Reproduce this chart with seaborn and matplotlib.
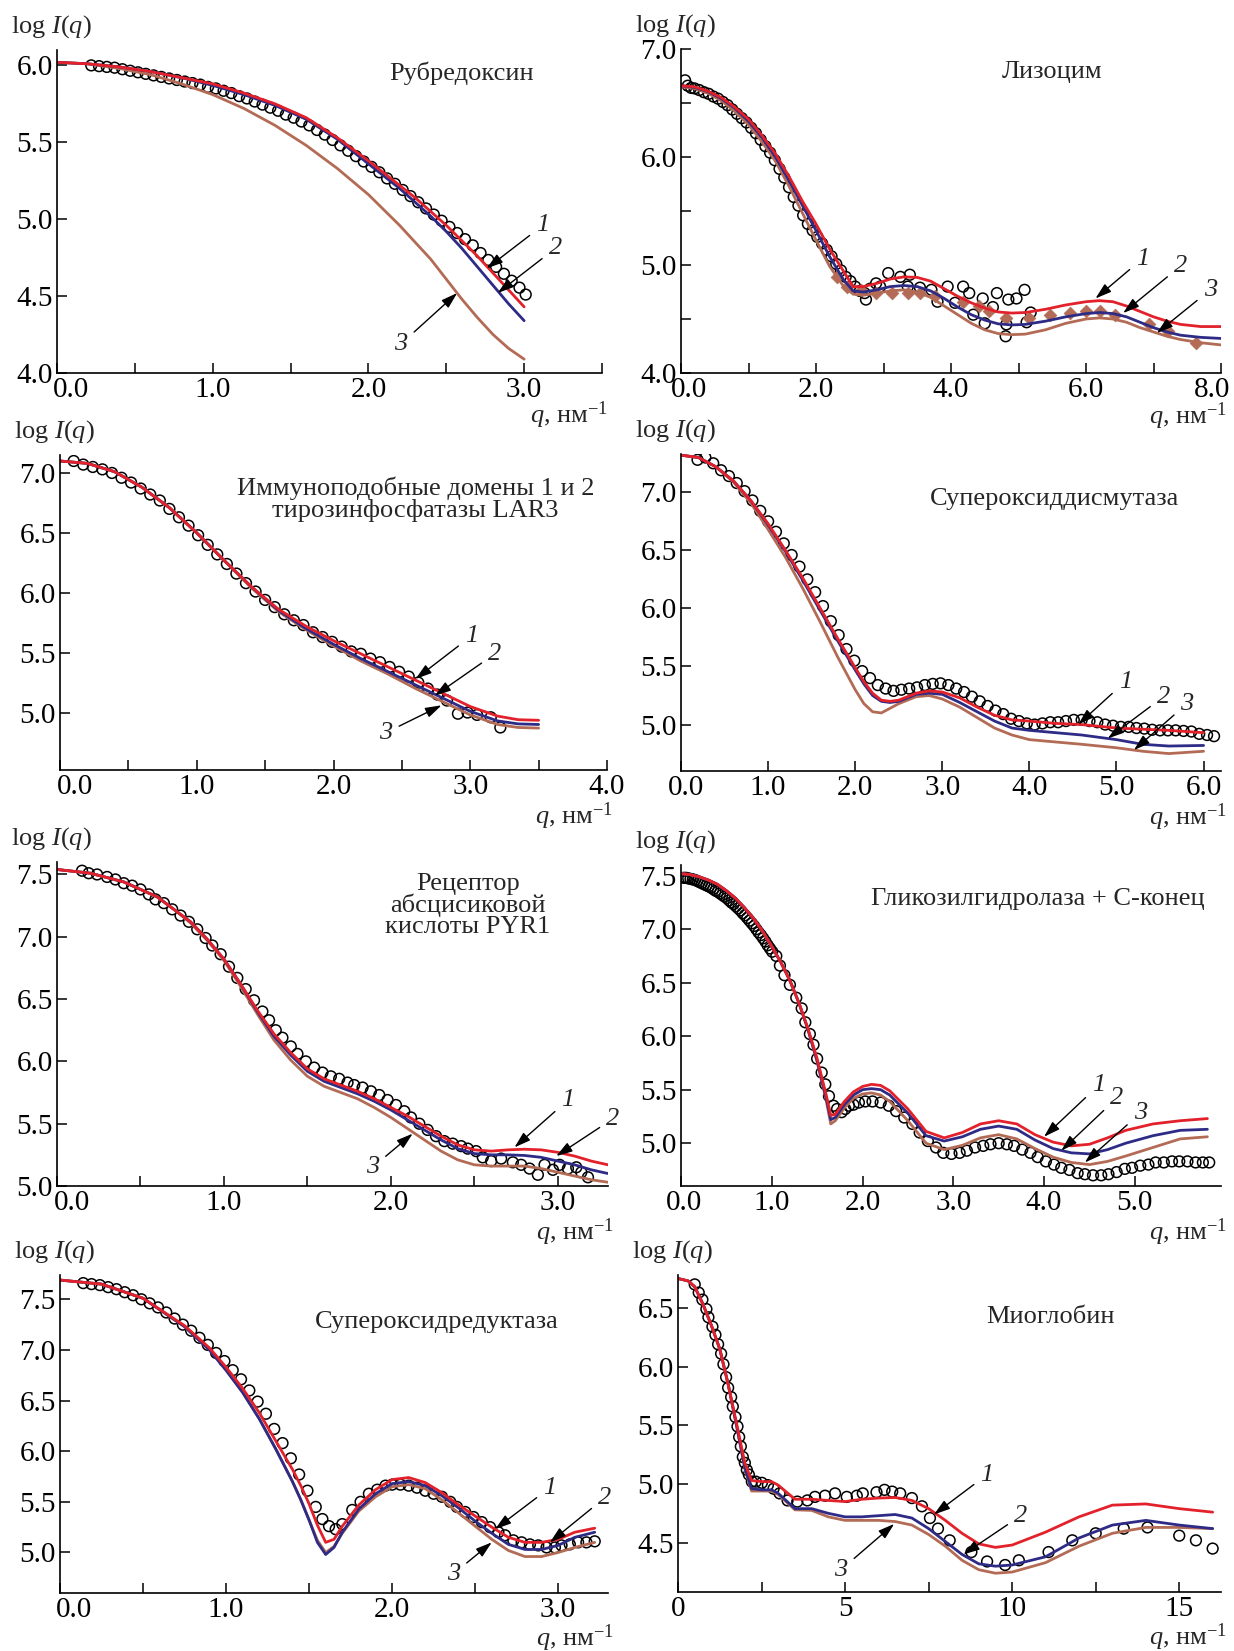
import matplotlib
matplotlib.use("Agg")
import matplotlib.pyplot as plt
import seaborn as sns
from matplotlib.ticker import FixedLocator, FormatStrFormatter
from matplotlib.transforms import ScaledTranslation

sns.set_style("ticks")
plt.rcParams['font.family'] = ['Liberation Serif', 'DejaVu Serif']
plt.rcParams['mathtext.fontset'] = 'custom'
plt.rcParams['mathtext.rm'] = 'Liberation Serif'
plt.rcParams['mathtext.it'] = 'Liberation Serif:italic'
plt.rcParams['mathtext.bf'] = 'Liberation Serif:bold'
plt.rcParams['axes.edgecolor'] = 'black'
plt.rcParams['xtick.color'] = 'black'
plt.rcParams['ytick.color'] = 'black'

RED = "#e3212b"
BLUE = "#2e2b87"
BROWN = "#b36b55"

# ---------------- Panel 1: Рубредоксин ----------------
q1_exp = [0.22, 0.27, 0.32, 0.37, 0.42, 0.47, 0.52, 0.57, 0.62, 0.67, 0.72, 0.77, 0.82, 0.87, 0.92, 0.97,
          1.02, 1.07, 1.12, 1.17, 1.22, 1.27, 1.32, 1.37, 1.42, 1.47, 1.52, 1.57, 1.62, 1.67, 1.72, 1.77,
          1.82, 1.87, 1.92, 1.97, 2.02, 2.07, 2.12, 2.17, 2.22, 2.27, 2.32, 2.37, 2.42, 2.47, 2.52, 2.57,
          2.62, 2.67, 2.72, 2.77, 2.82, 2.87, 2.92, 2.97, 3.01]
i1_exp = [6.00, 5.995, 5.99, 5.985, 5.975, 5.965, 5.955, 5.945, 5.935, 5.925, 5.915, 5.905, 5.895, 5.885,
          5.875, 5.86, 5.85, 5.835, 5.82, 5.80, 5.785, 5.765, 5.745, 5.725, 5.705, 5.68, 5.66, 5.635, 5.61,
          5.58, 5.55, 5.515, 5.48, 5.445, 5.41, 5.375, 5.34, 5.305, 5.265, 5.23, 5.19, 5.15, 5.11, 5.07,
          5.03, 4.99, 4.95, 4.91, 4.87, 4.83, 4.78, 4.735, 4.69, 4.645, 4.60, 4.555, 4.51]
q1_fit = [0, 0.2, 0.4, 0.6, 0.8, 1.0, 1.2, 1.4, 1.6, 1.8, 2.0, 2.1, 2.2, 2.3, 2.4, 2.5, 2.6, 2.7, 2.8, 2.9, 3.0]
f1_red = [6.02, 6.01, 5.99, 5.96, 5.92, 5.88, 5.82, 5.75, 5.66, 5.53, 5.38, 5.30, 5.22, 5.14, 5.05, 4.96,
          4.86, 4.76, 4.65, 4.54, 4.43]
f1_blue = [6.02, 6.01, 5.99, 5.96, 5.92, 5.87, 5.81, 5.74, 5.65, 5.52, 5.36, 5.28, 5.20, 5.11, 5.02, 4.92,
           4.81, 4.69, 4.57, 4.45, 4.34]
f1_brown = [6.02, 6.01, 5.98, 5.94, 5.88, 5.81, 5.72, 5.61, 5.48, 5.33, 5.16, 5.06, 4.96, 4.85, 4.74, 4.61,
            4.48, 4.36, 4.25, 4.16, 4.09]

# ---------------- Panel 2: Лизоцим ----------------
q2_exp = [0.06, 0.1, 0.15, 0.2, 0.27, 0.34, 0.41, 0.48, 0.55, 0.62, 0.69, 0.76, 0.83, 0.90, 0.97, 1.04,
          1.11, 1.18, 1.25, 1.32, 1.39, 1.46, 1.53, 1.60, 1.67, 1.74, 1.81, 1.88, 1.95, 2.02, 2.09, 2.16,
          2.23, 2.30, 2.37, 2.44, 2.51, 2.58, 2.65,
          2.72, 2.74, 2.80, 2.89, 2.95, 3.07, 3.25, 3.36, 3.39, 3.54, 3.71, 3.80, 3.95, 4.06, 4.18, 4.27,
          4.33, 4.47, 4.50, 4.62, 4.68, 4.81, 4.82, 4.85, 4.97, 5.09, 5.12, 5.18]
i2_exp = [6.71, 6.66, 6.64, 6.635, 6.62, 6.60, 6.585, 6.56, 6.54, 6.51, 6.48, 6.44, 6.40, 6.36, 6.32, 6.27,
          6.22, 6.16, 6.10, 6.04, 5.97, 5.89, 5.81, 5.72, 5.63, 5.55, 5.46, 5.38, 5.32, 5.26, 5.20, 5.14,
          5.08, 5.01, 4.95, 4.89, 4.85, 4.80, 4.76,
          4.74, 4.68, 4.78, 4.83, 4.80, 4.925, 4.89, 4.80, 4.91, 4.79, 4.77, 4.66, 4.80, 4.65, 4.80, 4.74,
          4.54, 4.69, 4.46, 4.61, 4.74, 4.34, 4.45, 4.68, 4.69, 4.77, 4.47, 4.56]
q2_dia = [2.31, 2.46, 2.66, 2.89, 3.13, 3.36, 3.54, 3.77, 4.18, 4.42, 4.56, 4.82, 5.15, 5.47, 5.76, 6.0,
          6.2, 6.43, 6.93, 7.22, 7.63]
i2_dia = [4.89, 4.80, 4.77, 4.74, 4.74, 4.74, 4.74, 4.71, 4.66, 4.62, 4.57, 4.51, 4.51, 4.54, 4.555, 4.57,
          4.57, 4.54, 4.45, 4.39, 4.28]
q2_fit = [0, 0.2, 0.4, 0.6, 0.8, 1.0, 1.2, 1.4, 1.6, 1.8, 2.0, 2.2, 2.4, 2.55, 2.7, 2.9, 3.1, 3.3, 3.5, 3.7,
          3.9, 4.1, 4.3, 4.5, 4.7, 4.9, 5.1, 5.4, 5.7, 6.0, 6.2, 6.4, 6.6, 6.8, 7.0, 7.2, 7.4, 7.7, 8.0]
f2_red = [6.66, 6.65, 6.61, 6.55, 6.46, 6.35, 6.20, 6.03, 5.82, 5.59, 5.38, 5.15, 4.95, 4.80, 4.80, 4.83,
          4.87, 4.89, 4.885, 4.85, 4.78, 4.71, 4.65, 4.60, 4.565, 4.555, 4.56, 4.59, 4.63, 4.66, 4.67, 4.66,
          4.62, 4.57, 4.52, 4.48, 4.45, 4.43, 4.43]
f2_blue = [6.66, 6.645, 6.605, 6.54, 6.45, 6.33, 6.18, 6.00, 5.78, 5.55, 5.32, 5.08, 4.87, 4.76, 4.75, 4.77,
           4.80, 4.81, 4.80, 4.76, 4.69, 4.61, 4.54, 4.49, 4.455, 4.445, 4.45, 4.48, 4.52, 4.55, 4.56, 4.55,
           4.52, 4.47, 4.42, 4.38, 4.35, 4.33, 4.32]
f2_brown = [6.65, 6.635, 6.59, 6.52, 6.42, 6.30, 6.14, 5.96, 5.73, 5.48, 5.23, 4.99, 4.81, 4.73, 4.72, 4.74,
            4.76, 4.77, 4.75, 4.70, 4.62, 4.54, 4.46, 4.40, 4.365, 4.355, 4.36, 4.40, 4.46, 4.50, 4.51, 4.50,
            4.47, 4.42, 4.38, 4.34, 4.31, 4.28, 4.26]

# ---------------- Panel 3: LAR3 ----------------
q3_exp = [0.10, 0.17, 0.24, 0.31, 0.38, 0.45, 0.52, 0.59, 0.66, 0.73, 0.80, 0.87, 0.94, 1.01, 1.08, 1.15,
          1.22, 1.29, 1.36, 1.43, 1.50, 1.57, 1.64, 1.71, 1.78, 1.85, 1.92, 1.99, 2.06, 2.13, 2.20, 2.27,
          2.34, 2.41, 2.48, 2.55, 2.62, 2.69, 2.76, 2.83, 2.91, 2.98, 3.05, 3.15, 3.22]
i3_exp = [7.10, 7.07, 7.05, 7.03, 7.00, 6.96, 6.92, 6.87, 6.82, 6.77, 6.70, 6.63, 6.56, 6.48, 6.40, 6.32,
          6.24, 6.16, 6.08, 6.01, 5.94, 5.88, 5.82, 5.77, 5.73, 5.67, 5.63, 5.59, 5.55, 5.51, 5.49, 5.45,
          5.42, 5.38, 5.34, 5.30, 5.25, 5.20, 5.15, 5.10, 4.99, 5.00, 4.98, 4.96, 4.875]
q3_fit = [0, 0.2, 0.4, 0.6, 0.8, 1.0, 1.2, 1.4, 1.6, 1.8, 2.0, 2.2, 2.4, 2.6, 2.8, 3.0, 3.2, 3.35, 3.5]
f3_red = [7.10, 7.08, 7.01, 6.88, 6.71, 6.50, 6.27, 6.05, 5.86, 5.72, 5.60, 5.49, 5.38, 5.27, 5.16, 5.05,
          4.97, 4.94, 4.935]
f3_blue = [7.10, 7.08, 7.01, 6.88, 6.71, 6.50, 6.27, 6.05, 5.85, 5.70, 5.57, 5.45, 5.34, 5.23, 5.12, 5.01,
           4.93, 4.905, 4.90]
f3_brown = [7.10, 7.08, 7.01, 6.88, 6.71, 6.50, 6.27, 6.04, 5.84, 5.69, 5.555, 5.43, 5.32, 5.20, 5.09, 4.98,
            4.90, 4.875, 4.87]

# ---------------- Panel 4: Супероксиддисмутаза ----------------
q4_exp = [0.19, 0.28, 0.37, 0.46, 0.55, 0.64, 0.73, 0.82, 0.91, 1.0, 1.09, 1.18, 1.27, 1.36, 1.45, 1.54,
          1.63, 1.72, 1.81, 1.90, 1.99, 2.08, 2.17, 2.26, 2.35, 2.44, 2.53, 2.62, 2.71, 2.80, 2.89, 2.98,
          3.07, 3.16, 3.25, 3.34, 3.43, 3.52, 3.61, 3.70, 3.79, 3.88, 3.97, 4.06, 4.15, 4.24, 4.33, 4.42,
          4.51, 4.60, 4.69, 4.78, 4.87, 4.96, 5.05, 5.14, 5.23, 5.32, 5.41, 5.50, 5.59, 5.68, 5.77, 5.86,
          5.95, 6.04, 6.12]
i4_exp = [7.28, 7.30, 7.25, 7.19, 7.14, 7.08, 7.01, 6.93, 6.84, 6.75, 6.66, 6.56, 6.46, 6.36, 6.25, 6.14,
          6.02, 5.89, 5.77, 5.65, 5.55, 5.46, 5.40, 5.34, 5.31, 5.29, 5.30, 5.31, 5.32, 5.34, 5.35, 5.355,
          5.34, 5.31, 5.28, 5.24, 5.20, 5.16, 5.12, 5.09, 5.05, 5.03, 5.01, 5.00, 5.01, 5.02, 5.02, 5.03,
          5.04, 5.04, 5.03, 5.02, 5.00, 4.99, 4.98, 4.98, 4.97, 4.965, 4.955, 4.95, 4.95, 4.95, 4.945, 4.94,
          4.92, 4.91, 4.90]
q4_fit = [0, 0.2, 0.4, 0.6, 0.8, 1.0, 1.2, 1.4, 1.6, 1.8, 2.0, 2.1, 2.2, 2.3, 2.4, 2.5, 2.6, 2.7, 2.85, 3.0,
          3.2, 3.4, 3.6, 3.8, 4.0, 4.3, 4.6, 5.0, 5.3, 5.6, 6.0]
f4_red = [7.32, 7.30, 7.22, 7.10, 6.93, 6.73, 6.50, 6.26, 6.00, 5.74, 5.49, 5.37, 5.27, 5.21, 5.20, 5.21,
          5.24, 5.27, 5.29, 5.28, 5.23, 5.15, 5.08, 5.04, 5.03, 5.01, 5.00, 4.97, 4.96, 4.95, 4.93]
f4_blue = [7.32, 7.30, 7.22, 7.10, 6.93, 6.72, 6.49, 6.24, 5.98, 5.72, 5.47, 5.35, 5.25, 5.20, 5.19, 5.20,
           5.23, 5.26, 5.27, 5.26, 5.19, 5.11, 5.03, 4.97, 4.95, 4.93, 4.91, 4.87, 4.83, 4.815, 4.82]
f4_brown = [7.32, 7.30, 7.22, 7.09, 6.91, 6.68, 6.44, 6.17, 5.88, 5.58, 5.30, 5.18, 5.11, 5.10, 5.14, 5.18,
            5.21, 5.24, 5.25, 5.22, 5.15, 5.06, 4.97, 4.91, 4.87, 4.85, 4.83, 4.80, 4.77, 4.75, 4.77]

# ---------------- Panel 5: PYR1 ----------------
q5_exp = [0.15, 0.19, 0.24, 0.30, 0.35, 0.40, 0.45, 0.50, 0.55, 0.59, 0.64, 0.69, 0.74, 0.79, 0.84, 0.89,
          0.93, 0.98, 1.03, 1.08, 1.13, 1.18, 1.23, 1.27, 1.31, 1.35, 1.40, 1.44, 1.49, 1.54, 1.59, 1.64,
          1.69, 1.74, 1.78, 1.83, 1.88, 1.93, 1.98, 2.03, 2.08, 2.12, 2.17, 2.22, 2.27, 2.32, 2.37, 2.42,
          2.46, 2.51, 2.55, 2.60, 2.66, 2.73, 2.78, 2.83, 2.88, 2.92, 2.97, 3.01, 3.06, 3.11, 3.14, 3.18]
i5_exp = [7.53, 7.51, 7.50, 7.48, 7.46, 7.43, 7.41, 7.38, 7.34, 7.30, 7.27, 7.22, 7.17, 7.12, 7.06, 6.99,
          6.93, 6.86, 6.76, 6.67, 6.58, 6.49, 6.40, 6.33, 6.25, 6.19, 6.12, 6.06, 6.00, 5.95, 5.91, 5.88,
          5.86, 5.83, 5.81, 5.79, 5.76, 5.73, 5.69, 5.65, 5.60, 5.55, 5.50, 5.45, 5.40, 5.36, 5.34, 5.32,
          5.30, 5.28, 5.23, 5.20, 5.22, 5.19, 5.17, 5.14, 5.09, 5.17, 5.13, 5.17, 5.14, 5.15, 5.11, 5.07]
q5_fit = [0, 0.2, 0.4, 0.6, 0.7, 0.8, 0.9, 1.0, 1.1, 1.2, 1.3, 1.4, 1.5, 1.6, 1.7, 1.8, 1.9, 2.0, 2.1, 2.2,
          2.3, 2.4, 2.5, 2.6, 2.7, 2.8, 2.9, 3.0, 3.1, 3.2, 3.3]
f5_red = [7.54, 7.51, 7.44, 7.32, 7.22, 7.12, 6.98, 6.82, 6.62, 6.41, 6.22, 6.07, 5.94, 5.86, 5.81, 5.76,
          5.70, 5.63, 5.56, 5.48, 5.40, 5.33, 5.29, 5.28, 5.29, 5.295, 5.29, 5.27, 5.24, 5.20, 5.17]
f5_blue = [7.54, 7.51, 7.44, 7.32, 7.22, 7.12, 6.98, 6.82, 6.62, 6.40, 6.20, 6.05, 5.92, 5.84, 5.79, 5.74,
           5.68, 5.61, 5.53, 5.45, 5.37, 5.30, 5.26, 5.25, 5.25, 5.245, 5.23, 5.20, 5.17, 5.13, 5.10]
f5_brown = [7.54, 7.51, 7.44, 7.32, 7.22, 7.11, 6.97, 6.81, 6.60, 6.38, 6.17, 6.01, 5.88, 5.80, 5.75, 5.70,
            5.63, 5.55, 5.46, 5.37, 5.28, 5.21, 5.17, 5.16, 5.16, 5.16, 5.14, 5.11, 5.08, 5.05, 5.03]

# ---------------- Panel 6: Гликозилгидролаза + С-конец ----------------
q6_exp = [0.03, 0.055, 0.08, 0.105, 0.13, 0.155, 0.18, 0.205, 0.23, 0.255, 0.28, 0.305, 0.33, 0.355, 0.38,
          0.405, 0.43, 0.455, 0.48, 0.505, 0.53, 0.555, 0.58, 0.605, 0.63, 0.655, 0.68, 0.705, 0.73, 0.755,
          0.78, 0.805, 0.83, 0.855, 0.88, 0.905, 0.93, 0.955, 0.98, 1.005,
          1.05, 1.09, 1.14, 1.2, 1.27, 1.33, 1.37, 1.42, 1.46, 1.5, 1.55, 1.59, 1.63, 1.68, 1.72, 1.77, 1.81,
          1.85, 1.9, 1.96, 2.03, 2.11, 2.2, 2.29, 2.37, 2.46, 2.55, 2.63, 2.72, 2.81, 2.89, 2.98, 3.07, 3.15,
          3.24, 3.33, 3.41, 3.5, 3.59, 3.67, 3.76, 3.85, 3.93, 4.02, 4.11, 4.19, 4.28, 4.37, 4.45, 4.54, 4.63,
          4.71, 4.8, 4.89, 4.97, 5.06, 5.15, 5.23, 5.32, 5.41, 5.49, 5.58, 5.67, 5.75, 5.82]
i6_exp = [7.48, 7.48, 7.475, 7.47, 7.465, 7.46, 7.45, 7.44, 7.43, 7.42, 7.41, 7.40, 7.39, 7.375, 7.36,
          7.35, 7.335, 7.32, 7.305, 7.29, 7.27, 7.25, 7.235, 7.215, 7.195, 7.175, 7.15, 7.13, 7.105, 7.08,
          7.055, 7.03, 7.00, 6.97, 6.945, 6.915, 6.885, 6.85, 6.82, 6.79,
          6.75, 6.66, 6.57, 6.48, 6.36, 6.26, 6.13, 6.02, 5.92, 5.79, 5.66, 5.55, 5.44, 5.35, 5.32, 5.29, 5.32,
          5.35, 5.36, 5.38, 5.39, 5.39, 5.38, 5.35, 5.30, 5.24, 5.18, 5.10, 5.02, 4.96, 4.91, 4.90, 4.91, 4.93,
          4.96, 4.975, 4.99, 5.00, 4.99, 4.975, 4.94, 4.91, 4.87, 4.83, 4.80, 4.77, 4.75, 4.72, 4.71, 4.70, 4.70,
          4.71, 4.73, 4.76, 4.77, 4.79, 4.80, 4.82, 4.82, 4.83, 4.83, 4.83, 4.82, 4.82, 4.82]
q6_fit = [0, 0.1, 0.2, 0.3, 0.4, 0.5, 0.6, 0.7, 0.8, 0.9, 1.0, 1.1, 1.2, 1.3, 1.4, 1.5, 1.6, 1.65, 1.7, 1.8,
          1.9, 2.0, 2.1, 2.2, 2.3, 2.5, 2.7, 2.9, 3.1, 3.3, 3.5, 3.7, 3.9, 4.1, 4.3, 4.5, 4.7, 4.9, 5.2, 5.5, 5.8]
f6_red = [7.52, 7.51, 7.49, 7.46, 7.42, 7.36, 7.29, 7.20, 7.10, 6.98, 6.84, 6.69, 6.52, 6.31, 6.07, 5.79,
          5.45, 5.26, 5.27, 5.39, 5.48, 5.53, 5.55, 5.54, 5.49, 5.32, 5.11, 5.05, 5.10, 5.18, 5.21, 5.18, 5.08,
          5.01, 4.975, 4.99, 5.05, 5.12, 5.18, 5.21, 5.23]
f6_blue = [7.52, 7.51, 7.49, 7.46, 7.42, 7.36, 7.29, 7.20, 7.10, 6.98, 6.84, 6.69, 6.52, 6.31, 6.06, 5.77,
           5.42, 5.22, 5.24, 5.36, 5.45, 5.50, 5.51, 5.50, 5.45, 5.28, 5.07, 5.02, 5.06, 5.13, 5.16, 5.13, 5.03,
           4.95, 4.91, 4.90, 4.94, 5.00, 5.07, 5.12, 5.13]
f6_brown = [7.52, 7.51, 7.49, 7.46, 7.42, 7.36, 7.29, 7.20, 7.10, 6.98, 6.84, 6.69, 6.52, 6.31, 6.06, 5.76,
            5.40, 5.18, 5.21, 5.33, 5.42, 5.46, 5.47, 5.45, 5.39, 5.21, 5.00, 4.94, 4.98, 5.05, 5.08, 5.04, 4.95,
            4.87, 4.82, 4.80, 4.83, 4.88, 4.96, 5.04, 5.06]

# ---------------- Panel 7: Супероксидредуктаза ----------------
q7_exp = [0.14, 0.19, 0.24, 0.29, 0.34, 0.39, 0.44, 0.49, 0.54, 0.59, 0.64, 0.69, 0.74, 0.79, 0.84, 0.89,
          0.94, 0.99, 1.04, 1.09, 1.14, 1.19, 1.24, 1.29, 1.34, 1.39, 1.44, 1.49, 1.54, 1.58, 1.62, 1.66,
          1.70, 1.76, 1.81, 1.86, 1.91, 1.96, 2.00, 2.05, 2.10, 2.15, 2.20, 2.25, 2.30, 2.35, 2.39, 2.44,
          2.49, 2.54, 2.59, 2.64, 2.68, 2.73, 2.78, 2.83, 2.88, 2.93, 2.98, 3.02, 3.07, 3.12, 3.17, 3.22]
i7_exp = [7.66, 7.65, 7.64, 7.62, 7.60, 7.57, 7.54, 7.50, 7.46, 7.42, 7.37, 7.31, 7.25, 7.19, 7.12, 7.05,
          6.97, 6.89, 6.80, 6.71, 6.60, 6.49, 6.37, 6.22, 6.08, 5.93, 5.77, 5.61, 5.45, 5.33, 5.26, 5.23,
          5.28, 5.42, 5.50, 5.58, 5.62, 5.66, 5.67, 5.67, 5.66, 5.64, 5.61, 5.58, 5.55, 5.50, 5.45, 5.40,
          5.35, 5.30, 5.25, 5.20, 5.17, 5.12, 5.10, 5.08, 5.07, 5.05, 5.05, 5.07, 5.08, 5.10, 5.10, 5.11]
q7_fit = [0, 0.25, 0.5, 0.75, 0.9, 1.0, 1.1, 1.2, 1.3, 1.4, 1.45, 1.5, 1.55, 1.6, 1.65, 1.7, 1.8, 1.9, 2.0,
          2.1, 2.2, 2.3, 2.4, 2.5, 2.6, 2.7, 2.8, 2.9, 3.0, 3.1, 3.22]
f7_red = [7.69, 7.65, 7.51, 7.24, 7.02, 6.83, 6.62, 6.38, 6.10, 5.82, 5.66, 5.48, 5.27, 5.10, 5.13, 5.26,
          5.47, 5.62, 5.72, 5.74, 5.69, 5.59, 5.47, 5.36, 5.25, 5.15, 5.10, 5.10, 5.13, 5.20, 5.24]
f7_blue = [7.69, 7.65, 7.51, 7.23, 7.00, 6.80, 6.58, 6.32, 6.02, 5.70, 5.52, 5.32, 5.10, 4.98, 5.05, 5.20,
           5.43, 5.58, 5.68, 5.70, 5.66, 5.56, 5.44, 5.31, 5.19, 5.08, 5.03, 5.03, 5.07, 5.15, 5.20]
f7_brown = [7.69, 7.65, 7.51, 7.23, 7.00, 6.80, 6.58, 6.32, 6.02, 5.70, 5.52, 5.32, 5.12, 5.00, 5.06, 5.19,
            5.41, 5.55, 5.65, 5.67, 5.63, 5.52, 5.39, 5.26, 5.13, 5.02, 4.96, 4.96, 5.00, 5.05, 5.10]

# ---------------- Panel 8: Миоглобин ----------------
q8_exp = [0.5, 0.62, 0.73, 0.85, 0.91, 1.03, 1.12, 1.2, 1.29, 1.36, 1.44, 1.5, 1.59, 1.64, 1.72, 1.78, 1.83,
          1.88, 1.94, 2.0, 2.06, 2.12, 2.21, 2.33, 2.51, 2.69, 2.86, 3.04, 3.28, 3.57, 3.87, 4.1, 4.4, 4.7,
          5.05, 5.35, 5.53, 5.94, 6.18, 6.41, 6.65, 7.0, 7.3, 7.54, 7.78, 8.13, 8.78, 9.25, 9.79, 10.2,
          11.09, 11.8, 12.5, 13.34, 14.05, 15.0, 15.5, 16.0]
i8_exp = [6.70, 6.63, 6.57, 6.49, 6.42, 6.34, 6.27, 6.19, 6.11, 6.02, 5.91, 5.82, 5.74, 5.66, 5.57, 5.49,
          5.40, 5.32, 5.23, 5.18, 5.12, 5.08, 5.02, 5.02, 5.01, 4.99, 4.96, 4.92, 4.86, 4.85, 4.86, 4.89,
          4.90, 4.92, 4.89, 4.90, 4.92, 4.93, 4.95, 4.935, 4.92, 4.88, 4.81, 4.71, 4.62, 4.52, 4.42, 4.34,
          4.31, 4.35, 4.42, 4.52, 4.58, 4.62, 4.63, 4.56, 4.52, 4.45]
q8_fit = [0, 0.3, 0.5, 0.75, 1.0, 1.25, 1.5, 1.75, 2.0, 2.2, 2.5, 2.8, 3.0, 3.5, 4.0, 4.5, 5.0, 5.5, 6.0,
          6.5, 7.0, 7.5, 8.0, 8.5, 9.0, 9.5, 10.0, 11.0, 12.0, 13.0, 14.0, 15.0, 16.0]
f8_red = [6.75, 6.73, 6.68, 6.53, 6.35, 6.15, 5.85, 5.52, 5.18, 5.03, 5.02, 5.02, 4.99, 4.87, 4.87, 4.86,
          4.85, 4.87, 4.88, 4.885, 4.86, 4.79, 4.69, 4.58, 4.49, 4.46, 4.48, 4.59, 4.72, 4.82, 4.83, 4.79, 4.76]
f8_blue = [6.75, 6.73, 6.68, 6.53, 6.35, 6.15, 5.85, 5.50, 5.14, 4.96, 4.95, 4.95, 4.92, 4.79, 4.79, 4.75,
           4.72, 4.72, 4.73, 4.74, 4.71, 4.62, 4.51, 4.40, 4.32, 4.30, 4.31, 4.38, 4.54, 4.65, 4.69, 4.65, 4.62]
f8_brown = [6.75, 6.73, 6.68, 6.53, 6.35, 6.15, 5.85, 5.50, 5.13, 4.94, 4.94, 4.94, 4.91, 4.78, 4.775, 4.72,
            4.69, 4.69, 4.69, 4.68, 4.65, 4.57, 4.47, 4.35, 4.27, 4.24, 4.25, 4.33, 4.47, 4.58, 4.63, 4.63, 4.62]

# Titles and curve labels
titles = ["Рубредоксин", "Лизоцим", "Иммуноподобные домены 1 и 2\nтирозинфосфатазы LAR3",
          "Супероксиддисмутаза", "Рецептор\nабсцисиковой\nкислоты PYR1",
          "Гликозилгидролаза + С-конец", "Супероксидредуктаза", "Миоглобин"]
curve_labels = ["1", "2", "3"]

W, H = 1234, 1651
fig = plt.figure(figsize=(W / 100, H / 100), dpi=100)

layout = [
    dict(box=(57, 50, 602, 373), xlim=(0, 3.5), ylim=(4.0, 6.1), xmaj=[0, 1, 2, 3], xmin=[0.5, 1.5, 2.5, 3.5],
         ymaj=[4.0, 4.5, 5.0, 5.5, 6.0], ymin=[], xfmt='%.1f', tpos=(2.6, 5.95), first_dx=14, last_dx=0, xl_dy=42,
         notes=[((3.12, 4.96), (2.76, 4.68)), ((3.2, 4.81), (2.83, 4.52)), ((2.21, 4.19), (2.57, 4.52))]),
    dict(box=(681, 49, 1221, 373), xlim=(0, 8.0), ylim=(4.0, 7.0), xmaj=[0, 2, 4, 6, 8], xmin=[1, 3, 5, 7],
         ymaj=[4.0, 5.0, 6.0, 7.0], ymin=[4.5, 5.5, 6.5], xfmt='%.1f', tpos=(5.5, 6.79), first_dx=8, last_dx=-9,
         xl_dy=43,
         notes=[((6.84, 5.06), (6.14, 4.69)), ((7.4, 4.99), (6.55, 4.555)), ((7.84, 4.77), (7.05, 4.37))]),
    dict(box=(60, 455, 607, 770), xlim=(0, 4.0), ylim=(4.52, 7.15), xmaj=[0, 1, 2, 3, 4], xmin=[0.5, 1.5, 2.5, 3.5],
         ymaj=[5.0, 5.5, 6.0, 6.5, 7.0], ymin=[], xfmt='%.1f', tpos=(2.6, 6.78), first_dx=15, last_dx=0, xl_dy=46,
         notes=[((3.01, 5.64), (2.60, 5.28)), ((3.18, 5.49), (2.74, 5.14)), ((2.38, 4.83), (2.79, 5.06))]),
    dict(box=(681, 454, 1221, 771), xlim=(0, 6.2), ylim=(4.6, 7.33), xmaj=[0, 1, 2, 3, 4, 5, 6], xmin=[],
         ymaj=[5.0, 5.5, 6.0, 6.5, 7.0], ymin=[], xfmt='%.1f', tpos=(4.29, 6.94), first_dx=5, last_dx=0, xl_dy=46,
         notes=[((5.1, 5.37), (4.56, 5.00)), ((5.54, 5.24), (4.9, 4.88)), ((5.81, 5.18), (5.2, 4.78))]),
    dict(box=(57, 862, 608, 1186), xlim=(0, 3.3), ylim=(5.0, 7.6), xmaj=[0, 1, 2, 3], xmin=[0.5, 1.5, 2.5],
         ymaj=[5.0, 5.5, 6.0, 6.5, 7.0, 7.5], ymin=[], xfmt='%.1f', tpos=(2.46, 7.25), first_dx=15, last_dx=0,
         xl_dy=46,
         notes=[((3.06, 5.69), (2.74, 5.31)), ((3.33, 5.54), (2.99, 5.24)), ((1.89, 5.15), (2.13, 5.42))]),
    dict(box=(681, 865, 1221, 1186), xlim=(0, 5.95), ylim=(4.6, 7.6), xmaj=[0, 1, 2, 3, 4, 5], xmin=[],
         ymaj=[5.0, 5.5, 6.0, 6.5, 7.0, 7.5], ymin=[], xfmt='%.1f', tpos=(3.93, 7.28), first_dx=3, last_dx=0,
         xl_dy=46,
         notes=[((4.6, 5.54), (4.0, 5.06)), ((4.8, 5.42), (4.19, 4.93)), ((5.06, 5.28), (4.45, 4.82))]),
    dict(box=(60, 1275, 608, 1593), xlim=(0, 3.3), ylim=(4.6, 7.74), xmaj=[0, 1, 2, 3], xmin=[0.5, 1.5, 2.5],
         ymaj=[5.0, 5.5, 6.0, 6.5, 7.0, 7.5], ymin=[], xfmt='%.1f', tpos=(2.27, 7.28), first_dx=14, last_dx=0,
         xl_dy=45,
         notes=[((2.95, 5.64), (2.62, 5.23)), ((3.28, 5.54), (2.95, 5.10)), ((2.37, 4.79), (2.6, 5.10))]),
    dict(box=(678, 1275, 1221, 1592), xlim=(0, 16.25), ylim=(4.08, 6.78), xmaj=[0, 5, 10, 15], xmin=[2.5, 7.5, 12.5],
         ymaj=[4.5, 5.0, 5.5, 6.0, 6.5], ymin=[], xfmt='%d', tpos=(11.15, 6.42), first_dx=0, last_dx=0, xl_dy=45,
         notes=[((9.25, 5.08), (7.66, 4.74)), ((10.26, 4.73), (8.54, 4.40)), ((4.88, 4.27), (6.47, 4.66))]),
]

data = [
    (q1_exp, i1_exp, q1_fit, f1_red, f1_blue, f1_brown),
    (q2_exp, i2_exp, q2_fit, f2_red, f2_blue, f2_brown),
    (q3_exp, i3_exp, q3_fit, f3_red, f3_blue, f3_brown),
    (q4_exp, i4_exp, q4_fit, f4_red, f4_blue, f4_brown),
    (q5_exp, i5_exp, q5_fit, f5_red, f5_blue, f5_brown),
    (q6_exp, i6_exp, q6_fit, f6_red, f6_blue, f6_brown),
    (q7_exp, i7_exp, q7_fit, f7_red, f7_blue, f7_brown),
    (q8_exp, i8_exp, q8_fit, f8_red, f8_blue, f8_brown),
]

for k, (cfg, dat, title) in enumerate(zip(layout, data, titles)):
    l, t, r, b = cfg['box']
    ax = fig.add_axes([l / W, 1 - b / H, (r - l) / W, (b - t) / H])
    qe, ie, qf, fr, fb, fbr = dat
    sns.scatterplot(x=qe, y=ie, ax=ax, marker='o', s=60, facecolor='none', edgecolor='black',
                    linewidth=1.1, zorder=1, legend=False)
    if k == 1:
        sns.scatterplot(x=q2_dia, y=i2_dia, ax=ax, marker='D', s=42, color=BROWN, edgecolor=BROWN,
                        linewidth=0.5, zorder=1.5, legend=False)
    for f, c in ((fbr, BROWN), (fb, BLUE), (fr, RED)):
        sns.lineplot(x=qf, y=f, ax=ax, color=c, lw=2.0, sort=False, estimator=None, zorder=2)
    ax.set_xlim(*cfg['xlim'])
    ax.set_ylim(*cfg['ylim'])
    ax.xaxis.set_major_locator(FixedLocator(cfg['xmaj']))
    ax.xaxis.set_minor_locator(FixedLocator(cfg['xmin']))
    ax.yaxis.set_major_locator(FixedLocator(cfg['ymaj']))
    ax.yaxis.set_minor_locator(FixedLocator(cfg['ymin']))
    ax.xaxis.set_major_formatter(FormatStrFormatter(cfg['xfmt']))
    ax.yaxis.set_major_formatter(FormatStrFormatter('%.1f'))
    ax.tick_params(which='both', direction='in', length=7, width=1.1, labelsize=21)
    ax.tick_params(axis='x', which='major', pad=3)
    ax.tick_params(axis='y', which='major', pad=3)
    sns.despine(ax=ax)
    for s in ('left', 'bottom'):
        ax.spines[s].set_linewidth(1.2)
        ax.spines[s].set_color('black')
    ax.set_xlabel('')
    ax.set_ylabel('')
    # nudge first / last x tick labels as in the reference
    xt = ax.xaxis.get_major_ticks()
    for tick, dx in ((xt[0], cfg['first_dx']), (xt[-1], cfg['last_dx'])):
        if dx:
            lab = tick.label1
            lab.set_transform(lab.get_transform() + ScaledTranslation(dx / 100, 0, fig.dpi_scale_trans))
    ax.text(cfg['tpos'][0], cfg['tpos'][1], title, ha='center', va='center', fontsize=19,
            linespacing=0.95)
    for lab, (txt, tip) in zip(curve_labels, cfg['notes']):
        ax.annotate(lab, xy=tip, xytext=txt, ha='center', va='center', fontsize=19, fontstyle='italic',
                    annotation_clip=False,
                    arrowprops=dict(arrowstyle='-|>,head_length=0.7,head_width=0.22', color='black',
                                    lw=1.0, shrinkA=3, shrinkB=0, mutation_scale=14))
    fig.text((l - 46) / W, 1 - (t - 23) / H, r"log $I$($q$)", ha='left', va='center', fontsize=19)
    fig.text((r + 6) / W, 1 - (b + cfg['xl_dy']) / H, r"$q$, нм$^{-1}$", ha='right', va='center', fontsize=19)

fig.savefig("out.png", dpi=100)
